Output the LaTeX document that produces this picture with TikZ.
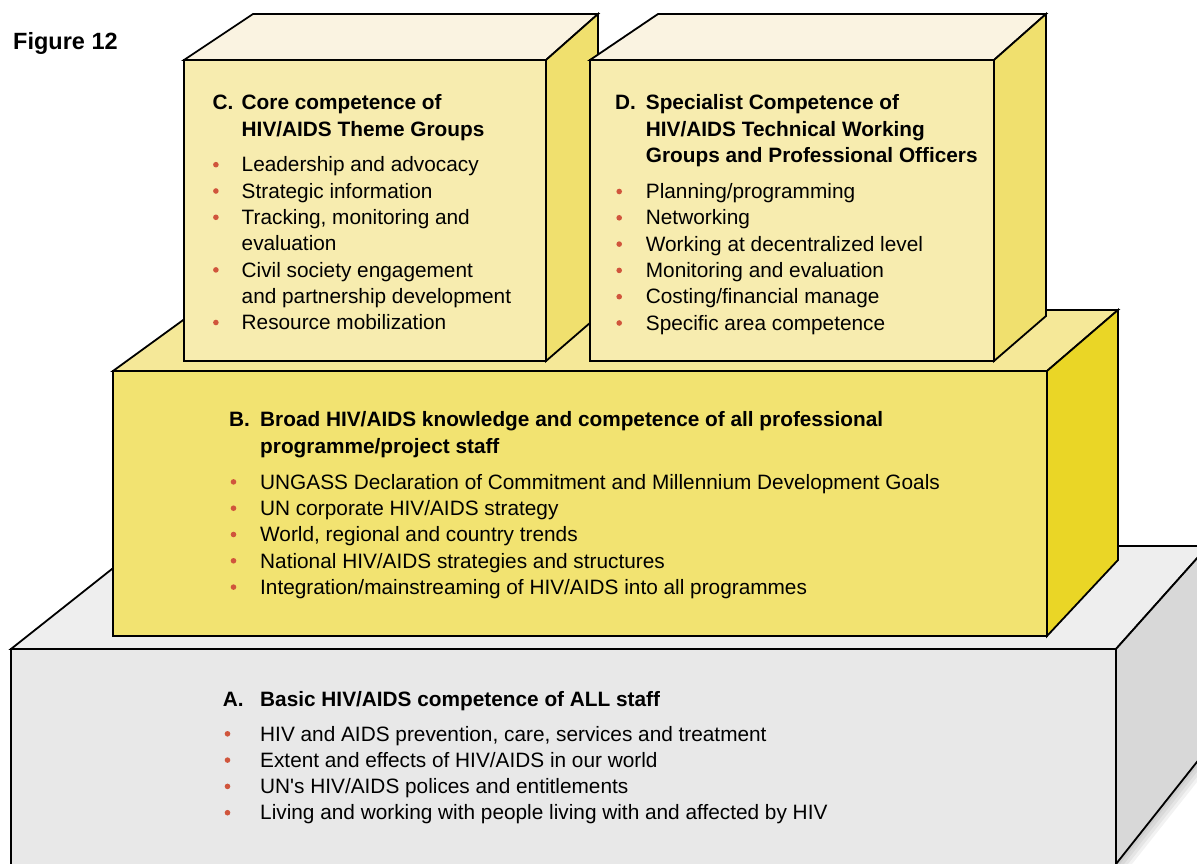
\documentclass[tikz,border=0pt]{standalone}
\usepackage{fontspec}
\setmainfont{Liberation Sans}[Ligatures=TeXOff]
\definecolor{bulred}{HTML}{D0553C}
\definecolor{afront}{HTML}{E8E8E8}
\definecolor{atop}{HTML}{EEEEEE}
\definecolor{aright}{HTML}{D8D8D8}
\definecolor{bfront}{HTML}{F2E371}
\definecolor{btop}{HTML}{F5E898}
\definecolor{bright}{HTML}{EAD626}
\definecolor{cfront}{HTML}{F7ECAF}
\definecolor{ctop}{HTML}{FAF3E1}
\definecolor{cright}{HTML}{F0E06E}
\newlength\bulo
\newlength\labo
\newcommand\lab[1]{\llap{\makebox[\labo][l]{#1}}}
\newcommand\bit{\llap{\makebox[2\bulo][c]{\tikz[baseline=0pt,x=1pt,y=1pt]\fill[bulred] (0,7.2) circle (2.8);}}}
\tikzset{
  face/.style={draw=black, line width=1.8pt, line join=miter},
  txt/.style={anchor=base west, inner sep=0pt, font=\fontsize{20.8pt}{26.3pt}\selectfont},
}
\begin{document}
\begin{tikzpicture}[x=1pt,y=-1pt]
\useasboundingbox (0,0) rectangle (1197,864);
\clip (0,0) rectangle (1197,864);
\fill[white] (0,0) rectangle (1197,864);

% ---------- Box A ----------
\coordinate (aFL) at (11,649);
\coordinate (aFR) at (1116,649);
\coordinate (aBL) at (141,546);
\coordinate (aBR) at (1208,546);
\coordinate (aFBL) at (11,880);
\coordinate (aFBR) at (1116,880);
\coordinate (aRB) at (1208,748);
\coordinate (aRBf) at (1116,864);
\foreach \w in {4,8,12,16}{
  \fill[black, opacity=0.05] (aRBf) -- (aRB) -- ([xshift=\w pt]aRB) -- ([xshift=\w pt]aRBf) -- cycle;
}
\path[face, fill=atop] (aFL) -- (aBL) -- (aBR) -- (aFR) -- cycle;
\path[face, fill=aright] (aFR) -- (aBR) -- (aRB) -- (aRBf) -- cycle;
\path[face, fill=afront] (aFL) -- (aFR) -- (aFBR) -- (aFBL) -- cycle;

% ---------- Box B ----------
\coordinate (bFL) at (113,371);
\coordinate (bFR) at (1047,371);
\coordinate (bBL) at (197,310);
\coordinate (bBR) at (1118,310);
\coordinate (bFBL) at (113,636);
\coordinate (bFBR) at (1047,636);
\coordinate (bRB) at (1118,560);
\path[face, fill=btop] (bFL) -- (bBL) -- (bBR) -- (bFR) -- cycle;
\path[face, fill=bright] (bFR) -- (bBR) -- (bRB) -- (bFBR) -- cycle;
\path[face, fill=bfront] (bFL) -- (bFR) -- (bFBR) -- (bFBL) -- cycle;

% ---------- Box C ----------
\coordinate (cFL) at (184,60);
\coordinate (cFR) at (546,60);
\coordinate (cBL) at (253,14);
\coordinate (cBR) at (598,14);
\coordinate (cFBL) at (184,361);
\coordinate (cFBR) at (546,361);
\coordinate (cRB) at (598,316);
\path[face, fill=ctop] (cFL) -- (cBL) -- (cBR) -- (cFR) -- cycle;
\path[face, fill=cright] (cFR) -- (cBR) -- (cRB) -- (cFBR) -- cycle;
\path[face, fill=cfront] (cFL) -- (cFR) -- (cFBR) -- (cFBL) -- cycle;

% ---------- Box D ----------
\coordinate (dFL) at (590,60);
\coordinate (dFR) at (994,60);
\coordinate (dBL) at (658,14);
\coordinate (dBR) at (1046,14);
\coordinate (dFBL) at (590,361);
\coordinate (dFBR) at (994,361);
\coordinate (dRB) at (1046,316);
\path[face, fill=ctop] (dFL) -- (dBL) -- (dBR) -- (dFR) -- cycle;
\path[face, fill=cright] (dFR) -- (dBR) -- (dRB) -- (dFBR) -- cycle;
\path[face, fill=cfront] (dFL) -- (dFR) -- (dFBR) -- (dFBL) -- cycle;

% ---------- Texts ----------
\node[anchor=base west, inner sep=0pt, font=\fontsize{23.5pt}{28pt}\selectfont\bfseries] (fig) at (13,50) {Figure 12};

\node[txt] (ctext) at (241.5,110) {\parbox[t]{330pt}{\setlength\bulo{25.8pt}\setlength\labo{29pt}%
\textbf{\lab{C.}Core competence of\\HIV/AIDS Theme Groups}\\[9.3pt]
\bit Leadership and advocacy\\
\bit Strategic information\\
\bit Tracking, monitoring and\\
evaluation\\
\bit Civil society engagement\\
and partnership development\\
\bit Resource mobilization}};

\node[txt] (dtext) at (645.7,110) {\parbox[t]{345pt}{\setlength\bulo{26.7pt}\setlength\labo{30.7pt}%
\textbf{\lab{D.}Specialist Competence of\\HIV/AIDS Technical Working\\Groups and Professional Officers}\\[9.8pt]
\bit Planning/programming\\
\bit Networking\\
\bit Working at decentralized level\\
\bit Monitoring and evaluation\\
\bit Costing/financial manage\\
\bit Specific area competence}};

\node[txt] (btext) at (260,426.7) {\parbox[t]{760pt}{\setlength\bulo{26.7pt}\setlength\labo{31pt}%
\textbf{\lab{B.}Broad HIV/AIDS knowledge and competence of all professional\\programme/project staff}\\[9.8pt]
\bit UNGASS Declaration of Commitment and Millennium Development Goals\\
\bit UN corporate HIV/AIDS strategy\\
\bit World, regional and country trends\\
\bit National HIV/AIDS strategies and structures\\
\bit Integration/mainstreaming of HIV/AIDS into all programmes}};

\node[txt] (atext) at (260,706.7) {\parbox[t]{760pt}{\setlength\bulo{32.7pt}\setlength\labo{37.3pt}%
\textbf{\lab{A.}Basic HIV/AIDS competence of ALL staff}\\[8pt]
\bit HIV and AIDS prevention, care, services and treatment\\
\bit Extent and effects of HIV/AIDS in our world\\
\bit UN's HIV/AIDS polices and entitlements\\
\bit Living and working with people living with and affected by HIV}};
\end{tikzpicture}
\end{document}
